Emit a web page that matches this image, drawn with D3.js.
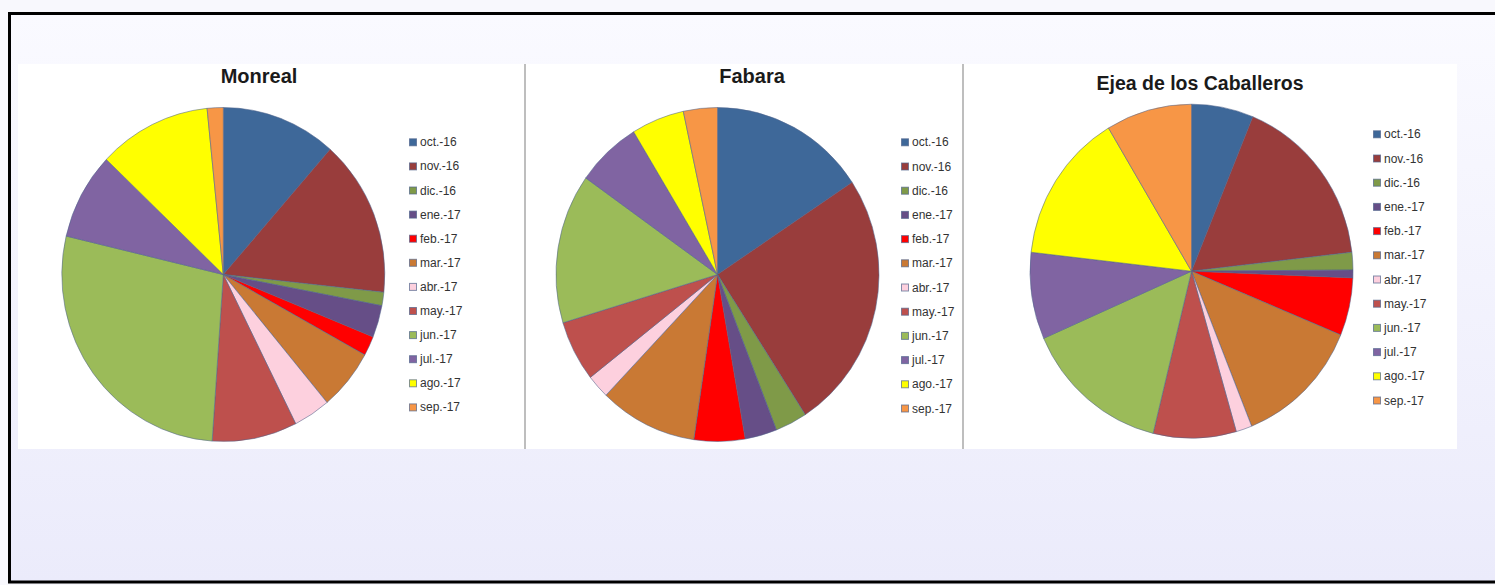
<!DOCTYPE html>
<html>
<head>
<meta charset="utf-8">
<script src="https://cdn.jsdelivr.net/npm/d3@7"></script>
<style>
  html, body { margin: 0; padding: 0; background: #f8f8fd; }
  svg { display: block; }
</style>
</head>
<body>
<svg id="chart" width="1495" height="585"></svg>
<script>
// Monthly share (%) per location, Oct 2016 – Sep 2017
const months = ["oct.-16", "nov.-16", "dic.-16", "ene.-17", "feb.-17", "mar.-17",
                "abr.-17", "may.-17", "jun.-17", "jul.-17", "ago.-17", "sep.-17"];
const monthColors = ["#3e6899", "#993d3c", "#7f9a48", "#664e87", "#ff0000", "#c97934",
                     "#fdd0de", "#be504d", "#9bbb59", "#8064a2", "#ffff00", "#f79646"];
const locations = ["Monreal", "Fabara", "Ejea de los Caballeros"];
const monreal = [11.5, 15.2, 1.3, 3.1, 1.9, 5.9, 3.7, 8.5, 27.6, 8.4, 11.3, 1.6];
const fabara  = [15.7, 25.2, 3.2, 3.2, 5.1, 9.8, 2.3, 5.9, 14.5, 6.5, 5.3, 3.4];
const ejea    = [6.2, 17.0, 1.7, 0.75, 5.6, 12.7, 1.6, 8.3, 14.6, 8.4, 14.6, 8.6];

const svg = d3.select("#chart");
const W = 1495, H = 585;

// backdrop with soft vertical gradient inside the frame
const defs = svg.append("defs");
const grad = defs.append("linearGradient").attr("id", "bg").attr("x1", 0).attr("y1", 0).attr("x2", 0).attr("y2", 1);
grad.append("stop").attr("offset", "0%").attr("stop-color", "#fafaff");
grad.append("stop").attr("offset", "100%").attr("stop-color", "#ebebfb");

svg.append("rect").attr("width", W).attr("height", H).attr("fill", "#f8f8fd");
svg.append("rect").attr("x", 9.5).attr("y", 13.5).attr("width", W).attr("height", 568.5)
  .attr("fill", "url(#bg)").attr("stroke", "#000").attr("stroke-width", 3);

// white plotting band and separators
svg.append("rect").attr("x", 18).attr("y", 64).attr("width", 1439).attr("height", 385).attr("fill", "#ffffff");
[525, 963].forEach(x => {
  svg.append("line").attr("x1", x).attr("x2", x).attr("y1", 64).attr("y2", 449)
    .attr("stroke", "#a8a8a8").attr("stroke-width", 1.5);
});

const color = d3.scaleOrdinal().domain(months).range(monthColors);

const panels = [
  { name: locations[0], values: monreal, cx: 223.3, cy: 274.5, tx: 259, ty: 83, tsize: 20, lx: 409, ly: 142.3, ls: 24.1 },
  { name: locations[1], values: fabara,  cx: 717.5, cy: 274.5, tx: 752, ty: 83, tsize: 20, lx: 901, ly: 142.3, ls: 24.2 },
  { name: locations[2], values: ejea,    cx: 1191.5, cy: 271.2, tx: 1200, ty: 90, tsize: 19.5, lx: 1373, ly: 134.3, ls: 24.2 }
];

const R = 167;
const pie = d3.pie().sort(null).value(d => d.v).startAngle(0).endAngle(2 * Math.PI);
const arc = d3.arc().innerRadius(0).outerRadius(R);

panels.forEach(p => {
  const data = months.map((m, i) => ({ m, v: p.values[i] }));

  // title
  svg.append("text")
    .attr("x", p.tx).attr("y", p.ty)
    .attr("text-anchor", "middle")
    .attr("font-family", "Liberation Sans, Arial, sans-serif")
    .attr("font-weight", "bold")
    .attr("font-size", p.tsize)
    .attr("fill", "#1a1a1a")
    .text(p.name);

  // pie (slightly narrower horizontally)
  const g = svg.append("g").attr("transform", `translate(${p.cx},${p.cy}) scale(0.967,1)`);
  g.selectAll("path").data(pie(data)).join("path")
    .attr("d", arc)
    .attr("fill", d => color(d.data.m))
    .attr("stroke", "rgba(80,100,140,0.55)")
    .attr("stroke-width", 1)
    .attr("vector-effect", "non-scaling-stroke");

  // legend
  const lg = svg.append("g");
  const items = lg.selectAll("g").data(months).join("g")
    .attr("transform", (d, i) => `translate(${p.lx},${p.ly + i * p.ls})`);
  items.append("rect")
    .attr("x", 0.5).attr("y", -3.5).attr("width", 7).attr("height", 7)
    .attr("fill", d => color(d))
    .attr("stroke", "rgba(80,100,140,0.7)")
    .attr("stroke-width", 1);
  items.append("text")
    .attr("x", 11).attr("y", 4)
    .attr("font-family", "Liberation Sans, Arial, sans-serif")
    .attr("font-size", 12)
    .attr("fill", "#333")
    .text(d => d);
});
</script>
</body>
</html>
